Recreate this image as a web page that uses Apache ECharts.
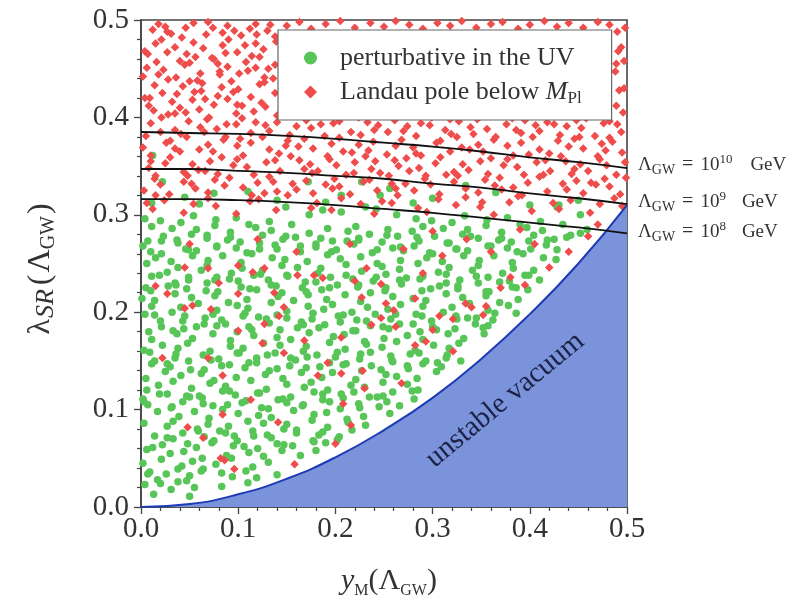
<!DOCTYPE html>
<html>
<head>
<meta charset="utf-8">
<script src="https://cdn.jsdelivr.net/npm/echarts@6/dist/echarts.min.js"></script>
<style>
  html, body { margin: 0; padding: 0; background: #fff; }
  #chart { width: 805px; height: 601px; }
</style>
</head>
<body>
<div id="chart"></div>
<script>
// points that stay perturbative up to the Planck scale
const greenPts = [
  [.004,.023],[.013,.013],[.017,.028],[.031,.018],[.038,.026],[.050,.011],[.055,.020],
  [.002,.045],[.009,.036],[.021,.049],[.026,.034],[.042,.042],[.050,.032],[.053,.047],[.064,.039],[.077,.044],[.083,.035],[.093,.050],[.108,.037],[.115,.041],[.119,.030],[.131,.046],[.140,.033],
  [.006,.059],[.022,.064],[.030,.055],[.033,.070],[.044,.057],[.057,.061],[.063,.050],[.073,.066],[.088,.053],[.095,.063],[.099,.068],[.111,.056],[.120,.060],[.126,.052],[.140,.065],[.145,.058],[.156,.063],[.164,.053],[.177,.068],[.180,.058],[.190,.066],
  [.003,.086],[.014,.073],[.027,.083],[.033,.088],[.043,.076],[.058,.080],[.065,.072],[.069,.085],[.081,.078],[.090,.083],[.096,.073],[.110,.088],[.115,.078],[.126,.086],[.134,.071],[.147,.080],[.150,.085],[.160,.076],[.176,.089],[.183,.074],[.192,.082],[.204,.072],[.213,.087],[.217,.079],[.231,.084],
  [.007,.105],[.017,.098],[.032,.103],[.039,.093],[.043,.108],[.055,.098],[.064,.106],[.070,.091],[.084,.100],[.089,.105],[.100,.096],[.108,.109],[.121,.094],[.124,.102],[.134,.092],[.150,.107],[.157,.099],[.166,.104],[.178,.095],[.187,.110],[.191,.097],[.205,.101],[.212,.090],[.224,.106],[.229,.093],[.245,.103],[.253,.108],[.256,.096],
  [.002,.111],[.006,.120],[.018,.125],[.027,.116],[.033,.129],[.047,.114],[.052,.122],[.063,.112],[.071,.127],[.084,.119],[.087,.124],[.097,.115],[.113,.130],[.120,.117],[.129,.121],[.141,.110],[.150,.126],[.154,.113],[.168,.123],[.175,.128],[.187,.116],[.192,.120],[.208,.112],[.216,.125],[.219,.118],[.230,.123],[.243,.113],[.249,.128],[.259,.118],[.274,.126],[.281,.111],[.285,.120],
  [.005,.132],[.011,.147],[.025,.139],[.030,.144],[.041,.135],[.049,.150],[.062,.137],[.065,.141],[.075,.130],[.091,.146],[.098,.133],[.107,.143],[.119,.148],[.128,.136],[.132,.140],[.146,.132],[.153,.145],[.165,.138],[.170,.143],[.186,.133],[.194,.148],[.197,.138],[.208,.146],[.221,.131],[.227,.140],[.237,.145],[.252,.136],[.259,.149],[.263,.134],[.275,.142],[.284,.132],[.290,.147],[.304,.139],[.309,.144],
  [.003,.161],[.014,.150],[.022,.166],[.035,.153],[.038,.163],[.048,.168],[.064,.156],[.071,.160],[.080,.152],[.092,.165],[.101,.158],[.105,.163],[.119,.153],[.126,.168],[.138,.158],[.143,.166],[.159,.151],[.167,.160],[.170,.165],[.181,.156],[.194,.169],[.200,.154],[.210,.162],[.225,.152],[.232,.167],[.236,.159],[.248,.164],[.257,.155],[.263,.170],[.277,.157],[.282,.161],[.293,.150],[.301,.166],[.314,.153],[.317,.163],[.327,.168],
  [.008,.180],[.011,.172],[.021,.185],[.037,.178],[.044,.183],[.053,.173],[.065,.188],[.074,.178],[.078,.186],[.092,.171],[.099,.180],[.111,.185],[.116,.176],[.132,.189],[.140,.174],[.143,.182],[.154,.172],[.167,.187],[.173,.179],[.183,.184],[.198,.175],[.205,.190],[.209,.177],[.221,.181],[.230,.170],[.236,.186],[.250,.173],[.255,.183],[.266,.188],[.274,.176],[.287,.180],[.290,.172],[.300,.185],[.316,.178],[.323,.183],[.332,.173],[.344,.188],[.353,.178],[.357,.186],
  [.004,.198],[.011,.206],[.020,.191],[.032,.200],[.041,.205],[.045,.196],[.059,.209],[.066,.194],[.078,.202],[.083,.192],[.099,.207],[.107,.199],[.110,.204],[.121,.195],[.134,.210],[.140,.197],[.150,.201],[.165,.190],[.172,.206],[.176,.193],[.188,.203],[.197,.208],[.203,.196],[.217,.200],[.222,.192],[.233,.205],[.241,.198],[.254,.203],[.257,.193],[.267,.208],[.283,.198],[.290,.206],[.299,.191],[.311,.200],[.320,.205],[.324,.196],[.338,.209],[.345,.194],[.357,.202],[.362,.192],[.378,.207],[.386,.199],
  [.001,.214],[.010,.222],[.014,.212],[.028,.227],[.035,.219],[.047,.224],[.052,.215],[.068,.230],[.076,.217],[.079,.221],[.090,.210],[.103,.226],[.109,.213],[.119,.223],[.134,.228],[.141,.216],[.145,.220],[.157,.212],[.166,.225],[.172,.218],[.186,.223],[.191,.213],[.202,.228],[.210,.218],[.223,.226],[.226,.211],[.236,.220],[.252,.225],[.259,.216],[.268,.229],[.280,.214],[.289,.222],[.293,.212],[.307,.227],[.314,.219],[.326,.224],[.331,.215],[.347,.230],[.355,.217],[.358,.221],[.369,.210],[.382,.226],[.388,.213],[.398,.223],
  [.006,.250],[.011,.237],[.027,.241],[.035,.230],[.038,.246],[.049,.233],[.062,.243],[.068,.248],[.078,.236],[.093,.240],[.100,.232],[.104,.245],[.116,.238],[.125,.243],[.131,.233],[.145,.248],[.150,.238],[.161,.246],[.169,.231],[.182,.240],[.185,.245],[.195,.236],[.211,.249],[.218,.234],[.227,.242],[.239,.232],[.248,.247],[.252,.239],[.266,.244],[.273,.235],[.285,.250],[.290,.237],[.306,.241],[.314,.230],[.317,.246],[.328,.233],[.341,.243],[.347,.248],[.357,.236],[.372,.240],[.379,.232],[.383,.245],[.395,.238],[.404,.243],[.410,.233],
  [.002,.268],[.015,.256],[.021,.260],[.031,.252],[.046,.265],[.053,.258],[.057,.263],[.069,.253],[.078,.268],[.084,.258],[.098,.266],[.103,.251],[.114,.260],[.122,.265],[.135,.256],[.138,.269],[.148,.254],[.164,.262],[.171,.252],[.180,.267],[.192,.259],[.201,.264],[.205,.255],[.219,.270],[.226,.257],[.238,.261],[.243,.250],[.259,.266],[.267,.253],[.270,.263],[.281,.268],[.294,.256],[.300,.260],[.310,.252],[.325,.265],[.332,.258],[.336,.263],[.348,.253],[.357,.268],[.363,.258],[.377,.266],[.382,.251],[.393,.260],[.401,.265],[.414,.256],[.417,.269],[.427,.254],
  [.007,.273],[.011,.288],[.023,.278],[.032,.286],[.038,.271],[.052,.280],[.057,.285],[.068,.276],[.076,.289],[.089,.274],[.092,.282],[.102,.272],[.118,.287],[.125,.279],[.134,.284],[.146,.275],[.155,.290],[.159,.277],[.173,.281],[.180,.270],[.192,.286],[.197,.273],[.213,.283],[.221,.288],[.224,.276],[.235,.280],[.248,.272],[.254,.285],[.264,.278],[.279,.283],[.286,.273],[.290,.288],[.302,.278],[.311,.286],[.317,.271],[.331,.280],[.336,.285],[.347,.276],[.355,.289],[.368,.274],[.371,.282],[.381,.272],[.397,.287],[.404,.279],[.413,.284],[.425,.275],[.434,.290],[.438,.277],[.452,.281],[.459,.285],
  [.004,.296],[.020,.294],[.041,.292],[.054,.299],[.077,.295],[.098,.297],[.111,.290],[.132,.293],[.149,.308],[.173,.300],[.187,.305],[.206,.303],[.231,.308],[.242,.306],[.263,.300],[.283,.296],[.299,.294],[.320,.292],[.333,.299],[.356,.295],[.377,.297],[.390,.290],[.411,.293],[.428,.308],[.452,.300],
  [.012,.361],[.022,.334],[.011,.312],[.045,.318],[.075,.322],[.110,.324],[.140,.315],[.172,.334],[.206,.320],[.227,.334],[.246,.320],[.256,.327],[.300,.317],[.334,.330],[.365,.323],[.400,.310],[.450,.315],[.430,.310],[.190,.313],[.280,.312],[.060,.311],
  [.007,.034],[.020,.024],[.038,.039],[.047,.027],[.062,.037],[.083,.021],[.094,.031],[.110,.025],
  [.012,.061],[.027,.071],[.048,.065],[.059,.078],[.075,.068],[.087,.076],[.106,.062],[.116,.073],[.130,.074],[.147,.064],[.160,.079],[.178,.067],[.187,.077],[.202,.069],
  [.003,.108],[.019,.116],[.031,.102],[.050,.113],[.060,.114],[.074,.104],[.091,.119],[.104,.107],[.122,.117],[.131,.101],[.146,.111],[.167,.105],[.178,.118],[.194,.108],[.206,.116],[.225,.102],[.235,.113],[.249,.114],[.266,.104],[.279,.119],
  [.009,.159],[.027,.147],[.036,.157],[.051,.141],[.072,.151],[.083,.145],[.099,.158],[.111,.148],[.130,.156],[.140,.142],[.154,.153],[.171,.154],[.184,.144],[.202,.159],[.211,.147],[.226,.157],[.247,.141],[.258,.151],[.274,.145],[.286,.158],[.305,.148],[.315,.156],[.329,.150],
  [.014,.197],[.033,.181],[.043,.191],[.057,.185],[.074,.198],[.087,.188],[.105,.196],[.114,.182],[.129,.193],[.150,.194],[.161,.184],[.177,.199],[.189,.187],[.208,.197],[.218,.181],[.232,.191],[.249,.185],[.262,.198],[.280,.188],[.289,.196],[.304,.182],[.325,.193],[.336,.194],[.352,.184],[.364,.199],
  [.005,.225],[.019,.238],[.036,.228],[.049,.236],[.067,.222],[.076,.233],[.091,.234],[.112,.224],[.123,.239],[.139,.227],[.151,.237],[.170,.221],[.180,.231],[.194,.225],[.211,.238],[.224,.228],[.242,.236],[.251,.222],[.266,.233],[.287,.234],[.298,.224],[.314,.239],[.326,.227],[.345,.237],[.355,.221],[.369,.231],[.386,.225],[.399,.238],
  [.010,.262],[.021,.273],[.037,.274],[.049,.264],[.068,.279],[.078,.267],[.092,.277],[.109,.261],[.122,.271],[.140,.265],[.149,.278],[.164,.268],[.185,.276],[.196,.262],[.212,.273],[.224,.274],[.243,.264],[.253,.279],[.267,.267],[.284,.277],[.297,.261],[.315,.271],[.324,.265],[.339,.278],[.360,.268],[.371,.276],[.387,.262],[.399,.273],[.418,.274],[.428,.264],[.442,.279]
];

// points with a Landau pole below M_Pl
const redPts = [
  [.006,.312],[.012,.306],[.024,.315],[.044,.302],[.054,.311],[.069,.317],[.077,.309],[.098,.301],[.112,.314],[.121,.316],[.139,.305],[.151,.320],[.175,.307],[.181,.312],[.196,.305],[.206,.317],[.226,.311],[.240,.301],[.248,.314],[.264,.320],[.285,.307],[.294,.303],[.306,.316],[.324,.310],[.334,.318],[.349,.308],[.363,.300],[.379,.313],[.388,.319],[.402,.304],[.424,.312],[.430,.306],[.442,.315],[.462,.302],[.472,.311],[.487,.317],[.495,.309],
  [.003,.325],[.014,.337],[.020,.331],[.029,.321],[.044,.334],[.048,.340],[.056,.327],[.069,.323],[.076,.336],[.086,.330],[.091,.338],[.105,.328],[.114,.320],[.120,.333],[.132,.339],[.140,.324],[.156,.332],[.160,.326],[.170,.335],[.177,.322],[.190,.331],[.199,.337],[.204,.329],[.215,.321],[.229,.334],[.235,.336],[.243,.325],[.255,.340],[.262,.327],[.272,.332],[.281,.325],[.292,.337],[.298,.331],[.307,.321],[.322,.334],[.326,.340],[.334,.327],[.347,.323],[.354,.336],[.364,.330],[.369,.338],[.383,.328],[.392,.320],[.398,.333],[.410,.339],[.418,.324],[.434,.332],[.438,.326],[.448,.335],[.455,.322],[.468,.331],[.477,.337],[.482,.329],[.493,.321],
  [.008,.348],[.015,.340],[.025,.353],[.030,.359],[.044,.344],[.053,.352],[.059,.346],[.071,.355],[.079,.342],[.095,.351],[.099,.357],[.109,.349],[.116,.341],[.129,.354],[.138,.356],[.143,.345],[.154,.360],[.168,.347],[.174,.352],[.182,.345],[.194,.357],[.201,.351],[.211,.341],[.220,.354],[.231,.360],[.237,.347],[.246,.343],[.261,.356],[.265,.350],[.273,.358],[.286,.348],[.293,.340],[.303,.353],[.308,.359],[.322,.344],[.331,.352],[.337,.346],[.349,.355],[.357,.342],[.373,.351],[.377,.357],[.387,.349],[.394,.341],[.407,.354],[.416,.356],[.421,.345],[.432,.360],[.446,.347],[.452,.352],[.460,.345],[.472,.357],[.479,.351],[.489,.341],[.498,.354],
  [.002,.369],[.010,.361],[.026,.374],[.030,.376],[.040,.365],[.047,.380],[.060,.367],[.069,.372],[.074,.365],[.085,.377],[.099,.371],[.105,.361],[.113,.374],[.125,.380],[.132,.367],[.142,.363],[.151,.376],[.162,.370],[.168,.378],[.177,.368],[.192,.360],[.196,.373],[.204,.379],[.217,.364],[.224,.372],[.234,.366],[.239,.375],[.253,.362],[.262,.371],[.268,.377],[.280,.369],[.288,.361],[.304,.374],[.308,.376],[.318,.365],[.325,.380],[.338,.367],[.347,.372],[.352,.365],[.363,.377],[.377,.371],[.383,.361],[.391,.374],[.403,.380],[.410,.367],[.420,.363],[.429,.376],[.440,.370],[.446,.378],[.455,.368],[.470,.360],[.474,.373],[.482,.379],[.495,.364],
  [.005,.381],[.010,.394],[.021,.400],[.035,.387],[.041,.383],[.049,.396],[.061,.390],[.068,.398],[.078,.388],[.087,.380],[.098,.393],[.104,.399],[.113,.384],[.128,.392],[.132,.386],[.140,.395],[.153,.382],[.160,.391],[.170,.397],[.175,.389],[.189,.381],[.198,.394],[.204,.396],[.216,.385],[.224,.400],[.240,.387],[.244,.392],[.254,.385],[.261,.397],[.274,.391],[.283,.381],[.288,.394],[.299,.400],[.313,.387],[.319,.383],[.327,.396],[.339,.390],[.346,.398],[.356,.388],[.365,.380],[.376,.393],[.382,.399],[.391,.384],[.406,.392],[.410,.386],[.418,.395],[.431,.382],[.438,.391],[.448,.397],[.453,.389],[.467,.381],[.476,.394],[.482,.396],[.494,.385],
  [.004,.420],[.013,.407],[.028,.403],[.032,.416],[.040,.410],[.053,.418],[.060,.408],[.070,.400],[.075,.413],[.089,.419],[.098,.404],[.104,.412],[.116,.406],[.124,.415],[.140,.402],[.489,.412],[.496,.405],
  [.009,.420],[.014,.433],[.028,.439],[.037,.424],[.043,.432],[.055,.426],[.063,.435],[.079,.422],[.083,.431],[.093,.437],[.100,.429],[.113,.421],[.122,.434],[.127,.436],[.138,.425],[.492,.428],
  [.002,.442],[.006,.451],[.016,.457],[.023,.449],[.036,.441],[.045,.454],[.050,.456],[.061,.445],[.075,.460],[.081,.447],[.089,.452],[.101,.445],[.108,.457],[.118,.451],[.127,.441],[.138,.454],[.488,.447],[.497,.458],
  [.007,.465],[.021,.480],[.027,.467],[.035,.472],[.047,.465],[.054,.477],[.064,.471],[.073,.461],[.084,.474],[.090,.480],[.099,.467],[.114,.463],[.118,.476],[.126,.470],[.139,.478],[.494,.472],
  [.012,.490],[.018,.496],[.027,.488],[.042,.482],[.046,.492],[.054,.497],[.067,.485],[.074,.492],[.084,.487],[.089,.494],[.103,.484],[.112,.491],[.118,.496],[.130,.489],[.138,.483],[.490,.488],
  [.150,.494],[.163,.498],[.175,.491],[.190,.496],[.205,.499],[.220,.492],[.236,.497],[.250,.493],[.262,.499],[.276,.495],[.290,.491],[.305,.497],[.318,.494],[.330,.499],[.345,.492],[.360,.496],[.372,.498],[.388,.491],[.400,.495],[.415,.499],[.428,.493],[.440,.497],[.455,.492],[.470,.498],[.482,.495],
  [.008,.412],[.022,.425],[.035,.404],[.050,.437],[.066,.419],[.081,.444],[.095,.426],[.110,.448],[.128,.411],[.136,.440],
  [.004,.468],[.018,.444],[.031,.486],[.056,.462],[.069,.498],[.079,.455],[.096,.489],[.107,.474],[.122,.462],[.133,.495],
  [.015,.476],[.040,.458],[.058,.438],[.087,.466],[.099,.413],[.119,.485],[.062,.427],[.025,.493],[.046,.405],[.131,.450],
  [.497,.430],[.491,.468],[.498,.492],[.489,.455],
  [.010,.355],[.035,.368],[.052,.332],[.065,.385],[.083,.359],[.102,.378],[.118,.395],[.136,.334],[.149,.371],[.163,.356],[.185,.393],[.197,.327],[.208,.365],[.226,.382],[.241,.355],[.258,.332],[.270,.386],[.283,.363],[.297,.392],[.314,.341],[.330,.369],[.342,.383],[.360,.358],[.371,.326],[.386,.387],[.399,.362],[.414,.341],[.425,.393],[.437,.355],[.451,.380],[.463,.333],[.478,.366],[.490,.393],[.499,.338],[.066,.345],[.127,.322],[.219,.343],[.276,.345],[.351,.313],[.443,.342],
  [.020,.385],[.088,.393],[.176,.343],[.233,.395],[.318,.398],[.395,.397],[.458,.399],[.485,.375],[.015,.320],[.258,.312],
  [.015,.227],[.027,.219],[.045,.204],[.053,.207],[.072,.203],[.080,.230],[.100,.219],[.100,.181],[.137,.220],[.147,.205],[.142,.196],[.127,.188],[.125,.168],[.147,.158],[.168,.171],[.069,.153],[.022,.153],[.084,.135],[.192,.148],[.182,.135],[.206,.174],[.220,.232],[.227,.215],[.247,.229],[.247,.194],[.237,.187],[.228,.140],[.206,.137],[.208,.106],[.230,.122],[.216,.084],[.200,.065],[.158,.044],[.141,.087],[.113,.110],[.084,.095],[.048,.082],[.064,.071],[.082,.050],[.086,.048],[.096,.039],
  [.290,.240],[.252,.209],[.260,.202],[.282,.214],[.262,.185],[.300,.182],[.321,.193],[.293,.170],[.282,.166],[.307,.196],[.334,.209],[.340,.205],[.355,.206],[.352,.197],[.370,.225],[.380,.236],[.321,.160],[.268,.127],[.420,.246],[.395,.228],
  [.045,.246],[.069,.245],[.100,.248],[.115,.241],[.127,.245],[.161,.238],[.178,.238],[.187,.235],[.232,.245],[.310,.258],[.360,.262],[.405,.270],[.440,.262],[.335,.275],[.270,.265],[.215,.270],[.160,.262],[.120,.275],[.050,.270],[.390,.285],[.300,.283],[.460,.278],[.470,.290]
];

const curveX  = [0, .05, .10, .15, .20, .25, .30, .35, .40, .45, .50];
const lam1e10 = [.385, .384, .383, .381, .378, .374, .370, .365, .359, .354, .348];
const lam1e9  = [.347, .347, .345, .343, .340, .337, .332, .328, .322, .317, .311];
const lam1e8  = [.316, .316, .315, .313, .310, .306, .302, .297, .292, .287, .281];
const vacuum  = [.000, .003, .013, .029, .051, .079, .112, .152, .198, .250, .310];

// right-hand labels of the three curves
const scaleLabels = [['10', 165], ['9', 202], ['8', 232]];

const serif = "'Liberation Serif', 'DejaVu Serif', serif";
const pairs = ys => curveX.map((x, i) => [x, ys[i]]);

const chart = echarts.init(document.getElementById('chart'));

const curve = (name, ys) => ({
  name, type: 'line', data: pairs(ys), smooth: true, symbol: 'none', z: 5,
  lineStyle: { color: '#111', width: 1.8 }, silent: true
});

const rightLabel = ([pow, y]) => ({
  type: 'text', x: 638, y: y,
  style: {
    text: '{a|Λ}{s|GW}{e|=}{a|10}{p|' + pow + '}{g|GeV}',
    verticalAlign: 'middle',
    rich: {
      a: { fontFamily: serif, fontSize: 19, lineHeight: 24, fill: '#333' },
      e: { fontFamily: serif, fontSize: 20, lineHeight: 24, fill: '#333', padding: [0, 7, 0, 7] },
      g: { fontFamily: serif, fontSize: 19, lineHeight: 24, fill: '#333', padding: [0, 0, 0, pow.length > 1 ? 18 : 16] },
      s: { fontFamily: serif, fontSize: 14, lineHeight: 14, verticalAlign: 'bottom', fill: '#333' },
      p: { fontFamily: serif, fontSize: 13, lineHeight: 14, verticalAlign: 'top', fill: '#333' }
    }
  }
});

chart.setOption({
  backgroundColor: '#fff',
  animation: false,
  grid: { left: 141, right: 178, top: 20, bottom: 94, show: true, borderColor: '#444', borderWidth: 1.6, backgroundColor: 'transparent' },
  xAxis: {
    type: 'value', min: 0, max: 0.5, interval: 0.1,
    axisLine: { show: true, lineStyle: { color: '#444', width: 1.6 } },
    axisTick: { show: true, length: 7, lineStyle: { color: '#444', width: 1.3 } },
    minorTick: { show: true, splitNumber: 5, length: 4, lineStyle: { color: '#444', width: 1.2 } },
    splitLine: { show: false },
    axisLabel: { formatter: v => v.toFixed(1), fontFamily: serif, fontSize: 29, color: '#333', margin: 8 }
  },
  yAxis: {
    type: 'value', min: 0, max: 0.5, interval: 0.1,
    axisLine: { show: true, lineStyle: { color: '#444', width: 1.6 } },
    axisTick: { show: true, length: 7, lineStyle: { color: '#444', width: 1.3 } },
    minorTick: { show: true, splitNumber: 5, length: 4, lineStyle: { color: '#444', width: 1.2 } },
    splitLine: { show: false },
    axisLabel: { formatter: v => v.toFixed(1), fontFamily: serif, fontSize: 29, color: '#333', margin: 12 }
  },
  legend: {
    orient: 'vertical', left: 278, top: 30,
    padding: [15, 30, 13, 26], itemGap: 8, itemWidth: 13, itemHeight: 13,
    backgroundColor: '#fff', borderColor: '#666', borderWidth: 1.2, borderRadius: 0,
    textStyle: {
      fontFamily: serif, fontSize: 26, color: '#333', padding: [0, 0, 0, 18],
      rich: {
        t: { fontFamily: serif, fontSize: 26, color: '#333', lineHeight: 30 },
        m: { fontFamily: serif, fontSize: 26, fontStyle: 'italic', color: '#333', lineHeight: 30 },
        s: { fontFamily: serif, fontSize: 17, color: '#333', verticalAlign: 'bottom', lineHeight: 18 }
      }
    },
    formatter: n => n === 'Landau pole below M_Pl' ? '{t|Landau pole below }{m|M}{s|Pl}' : '{t|' + n + '}',
    data: [
      { name: 'perturbative in the UV', icon: 'circle' },
      { name: 'Landau pole below M_Pl', icon: 'diamond' }
    ]
  },
  series: [
    {
      name: 'perturbative in the UV', type: 'scatter', data: greenPts,
      symbol: 'circle', symbolSize: 7.5, itemStyle: { color: '#58c558', opacity: 1 }, z: 2
    },
    {
      name: 'Landau pole below M_Pl', type: 'scatter', data: redPts,
      symbol: 'diamond', symbolSize: 8.5, itemStyle: { color: '#ef4c4c', opacity: 1 }, z: 2
    },
    {
      name: 'unstable vacuum', type: 'line', data: pairs(vacuum), smooth: true, symbol: 'none', z: 3,
      lineStyle: { color: '#1c3bb5', width: 2 },
      areaStyle: { color: '#7b93da', opacity: 1, origin: 'start' }, silent: true
    },
    curve('1e10', lam1e10),
    curve('1e9', lam1e9),
    curve('1e8', lam1e8)
  ],
  graphic: [
    {
      type: 'text', x: 505, y: 400, rotation: 0.69, z: 10,
      style: { text: 'unstable vacuum', fontFamily: serif, fontSize: 29, fill: '#1b2245', align: 'center', verticalAlign: 'middle' }
    },
    {
      type: 'text', x: 41, y: 268, rotation: Math.PI / 2,
      style: {
        text: '{a|λ}{i|SR}{b|(}{a|Λ}{s|GW}{b|)}', align: 'center', verticalAlign: 'middle',
        rich: {
          a: { fontFamily: serif, fontSize: 32, lineHeight: 36, fill: '#333' },
          b: { fontFamily: serif, fontSize: 32, lineHeight: 36, fill: '#333', padding: [0, 2, 0, 2] },
          i: { fontFamily: serif, fontSize: 26, fontStyle: 'italic', lineHeight: 26, verticalAlign: 'bottom', fill: '#333', padding: [0, 2, 0, 1] },
          s: { fontFamily: serif, fontSize: 20, lineHeight: 22, verticalAlign: 'bottom', fill: '#333' }
        }
      }
    },
    {
      type: 'text', x: 389, y: 581,
      style: {
        text: '{i|y}{s|M}{a|(Λ}{s|GW}{a|)}', align: 'center', verticalAlign: 'middle',
        rich: {
          a: { fontFamily: serif, fontSize: 30, lineHeight: 36, fill: '#333' },
          i: { fontFamily: serif, fontSize: 30, fontStyle: 'italic', lineHeight: 36, fill: '#333' },
          s: { fontFamily: serif, fontSize: 16, lineHeight: 20, verticalAlign: 'bottom', fill: '#333' }
        }
      }
    }
  ].concat(scaleLabels.map(rightLabel))
});
</script>
</body>
</html>
